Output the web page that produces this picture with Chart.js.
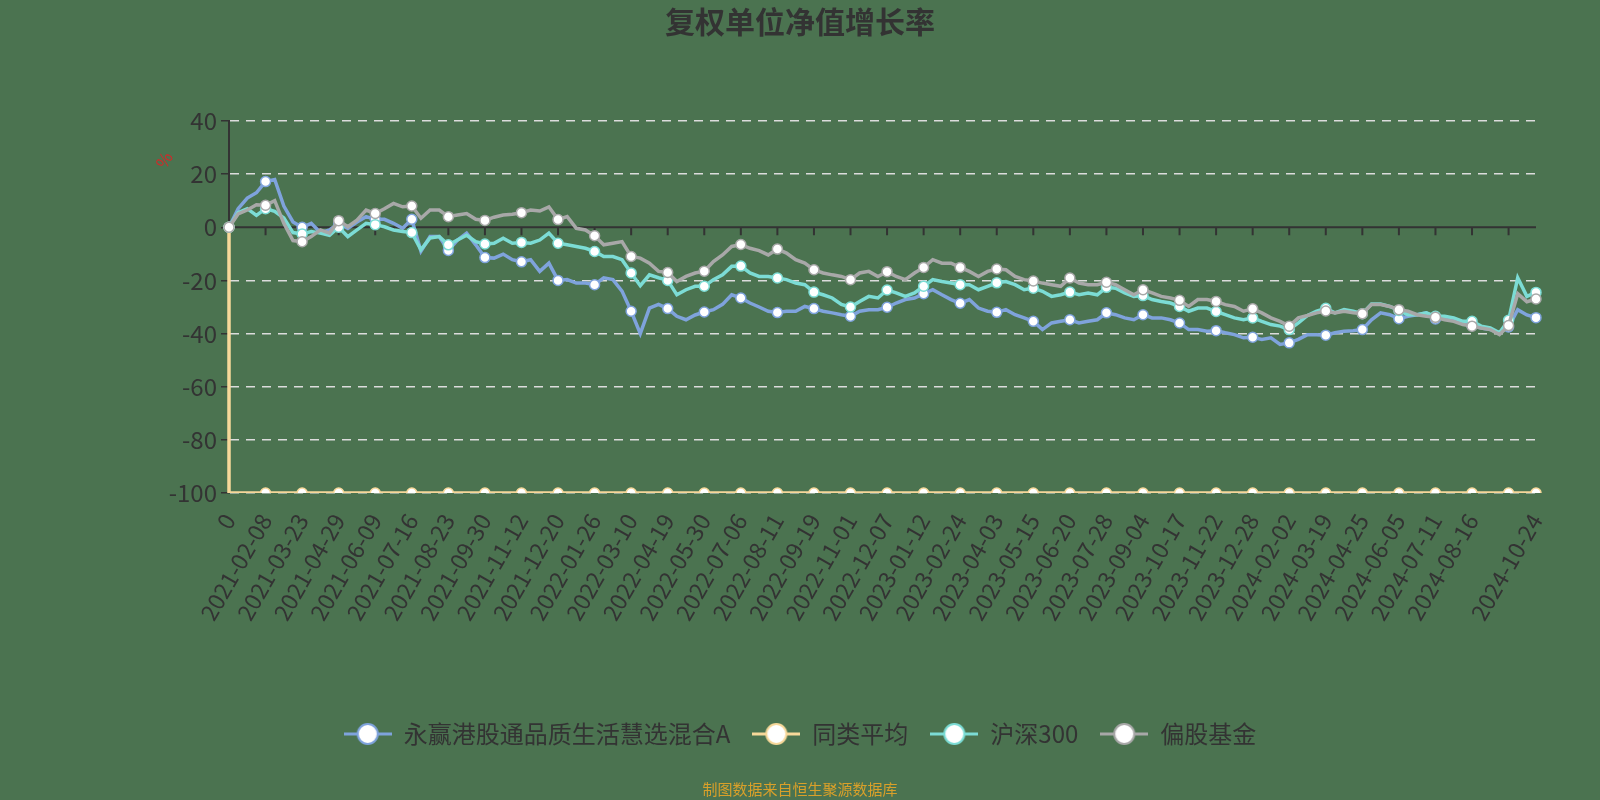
<!DOCTYPE html>
<html>
<head>
<meta charset="utf-8">
<script src="https://cdn.jsdelivr.net/npm/chart.js@4"></script>
<style>
  html, body { margin: 0; padding: 0; background: #4b7350; }
  #wrap { width: 1600px; height: 800px; }
</style>
</head>
<body>
<div id="wrap"><canvas id="navChart" width="1600" height="800"></canvas></div>
<script>
const FONT = '"Noto Sans CJK SC", "Noto Sans", sans-serif';

// dated ticks on the x axis, one every 4 samples; the tick before the last is unlabelled
const tickDates = [
  '0', '2021-02-08', '2021-03-23', '2021-04-29', '2021-06-09', '2021-07-16',
  '2021-08-23', '2021-09-30', '2021-11-12', '2021-12-20', '2022-01-26', '2022-03-10',
  '2022-04-19', '2022-05-30', '2022-07-06', '2022-08-11', '2022-09-19', '2022-11-01',
  '2022-12-07', '2023-01-12', '2023-02-24', '2023-04-03', '2023-05-15', '2023-06-20',
  '2023-07-28', '2023-09-04', '2023-10-17', '2023-11-22', '2023-12-28', '2024-02-02',
  '2024-03-19', '2024-04-25', '2024-06-05', '2024-07-11', '2024-08-16', ''
];
const lastDate = '2024-10-24';
const samplesPerTick = 4;

const seriesNames = ['永赢港股通品质生活慧选混合A', '同类平均', '沪深300', '偏股基金'];
const seriesColors = ['#7fa3dc', '#f7d89a', '#7cdcd5', '#a8a8a8'];

// growth rate (%)
const fundValues = [
  0, 7, 11, 13, 17.2, 18, 8, 2, 0,
  1.5, -2, -1, 1.5, -0.4, 2, 4, 3, 3, 1.5, -0.4, 3,
  -9, -3.5, -3.5, -8.7, -4.8, -2.2, -6.6, -11.4, -11.6,
  -10.1, -12.2, -13, -12.2, -16.6, -13.5, -20, -19.7, -21, -21, -21.6,
  -19, -19.7, -24, -31.6, -40, -30.4, -29, -30.6, -33.5, -34.8,
  -33, -31.9, -31, -29, -25.4, -26.6, -28.5, -30, -31.6, -32.1,
  -31.6, -31.6, -29.8, -30.6, -31.6, -32.2, -32.9, -33.5, -31.6, -31,
  -31, -30.1, -28.5, -27.2, -26.6, -25, -23.5, -25.4, -27.2, -28.6,
  -27.2, -30.4, -31.6, -32, -31, -32.9, -34.1, -35.4, -38.5, -36,
  -35.4, -34.8, -36, -35.4, -34.8, -32.2, -32.9, -34.1, -34.8, -32.9,
  -34.1, -34.1, -34.8, -36, -38.5, -38.5, -39.1, -38.9, -39.7, -40.4,
  -41.6, -41.4, -42.2, -41.6, -44.1, -43.5, -42.2, -40.4, -40.4, -40.6,
  -39.7, -39.1, -38.9, -38.5, -34.8, -32.2, -32.9, -34.4, -33.5, -32.9,
  -32.2, -34.5, -34.1, -34.8, -36, -37, -37.9, -38.5, -39.7, -37.5,
  -31, -33, -34
];

const peerAverage = [
  0, -100, -100, -100, -100, -100, -100, -100, -100, -100, -100, -100,
  -100, -100, -100, -100, -100, -100, -100, -100, -100, -100, -100, -100,
  -100, -100, -100, -100, -100, -100, -100, -100, -100, -100, -100, -100,
  -100, -100, -100, -100, -100, -100, -100, -100, -100, -100, -100, -100,
  -100, -100, -100, -100, -100, -100, -100, -100, -100, -100, -100, -100,
  -100, -100, -100, -100, -100, -100, -100, -100, -100, -100, -100, -100,
  -100, -100, -100, -100, -100, -100, -100, -100, -100, -100, -100, -100,
  -100, -100, -100, -100, -100, -100, -100, -100, -100, -100, -100, -100,
  -100, -100, -100, -100, -100, -100, -100, -100, -100, -100, -100, -100,
  -100, -100, -100, -100, -100, -100, -100, -100, -100, -100, -100, -100,
  -100, -100, -100, -100, -100, -100, -100, -100, -100, -100, -100, -100,
  -100, -100, -100, -100, -100, -100, -100, -100, -100, -100, -100, -100
];

const csi300 = [
  0, 5.5, 7, 4.5, 7, 6, 3.5, -2, -2.5,
  -1.6, -2.2, -3, 0, -3.5, -1, 1.5, 1, 0.2, -1, -1.6, -2,
  -8.5, -4, -3.5, -6.6, -4.8, -3, -5.4, -6.3, -6,
  -4.1, -6, -5.7, -6, -4.8, -2.2, -6, -6.6, -7.2, -7.9, -9.1,
  -11, -11, -12.2, -17.2, -22, -17.9, -19, -20, -25.4, -23.5,
  -22.2, -22.2, -19.7, -17.9, -14.7, -14.6, -17.2, -18.5, -18.5, -19.1,
  -19.7, -21, -21.6, -24.4, -25.4, -26.6, -29, -30, -27.9, -26,
  -26.6, -23.6, -24.7, -26, -24.7, -22.2, -19.7, -20.4, -21, -21.6,
  -21.6, -23.5, -22.2, -20.9, -20.4, -21.6, -23.5, -22.9, -24.1, -26,
  -25.4, -24.4, -25.4, -24.7, -25.4, -22.6, -22.9, -24.7, -26, -25.7,
  -27.2, -27.9, -28.5, -29.8, -31.6, -30.4, -30.4, -31.7, -32.9, -34.1,
  -34.8, -34.1, -35.4, -36.6, -37.2, -38.5, -36, -33.2, -31.6, -30.5,
  -32.2, -31, -31.6, -32.5, -28.9, -28.9, -29.8, -31.3, -32.9, -32.9,
  -32.2, -33.5, -33.5, -34.1, -35.4, -35.4, -37.2, -37.9, -39.7, -35,
  -19, -26, -24.5
];

const equityFunds = [
  0, 5, 6.5, 8.5, 8.3, 10, 1.5, -5, -5.4,
  -3.5, -1, -2.2, 2.5, 0.2, 2.7, 6.5, 5.2, 7, 9, 7.7, 8,
  3.4, 6.5, 6.5, 4, 4.6, 5.2, 3, 2.6, 3.8,
  4.6, 4.9, 5.5, 6.5, 6.1, 7.7, 2.9, 4, -0.4, -1, -3.2,
  -6.6, -6, -5.4, -11, -11.6, -13.5, -16.6, -17, -20.4, -18.5,
  -17.2, -16.5, -12.9, -10.4, -7.2, -6.5, -7.9, -8.8, -10.4, -8.2,
  -9.7, -12.2, -13.5, -16, -17.2, -17.9, -18.5, -19.7, -17.2, -16.6,
  -18.5, -16.7, -18.5, -19.7, -17.2, -15.1, -12.2, -13.5, -13.5, -15.1,
  -16.6, -18.5, -16.6, -15.7, -16, -18.5, -19.7, -20.2, -21, -21.6,
  -22.2, -19.1, -21, -21.6, -21.6, -20.7, -21.6, -23.5, -25.4, -23.5,
  -24.7, -26, -26.6, -27.5, -29.8, -27.2, -27.2, -27.9, -29.1, -29.8,
  -31.6, -30.7, -32.2, -34.1, -35.4, -37.2, -34.1, -33.2, -32.2, -31.5,
  -32.2, -31.6, -32.2, -32.5, -29.1, -29.1, -29.8, -31, -31.6, -32.9,
  -33.5, -33.9, -34.8, -35.4, -36.6, -37.2, -37.9, -38.5, -40.4, -37,
  -25, -28, -27
];

// one category per sample, named only where a date tick sits
const categories = fundValues.map((v, i) => {
  if (i % samplesPerTick === 0) return tickDates[i / samplesPerTick];
  return i === fundValues.length - 1 ? lastDate : '';
});
const lastIndex = categories.length - 1;

// dots only at the ticks and the last sample, like the original
const dotRadius = (ctx) => (ctx.index % samplesPerTick === 0 || ctx.index === lastIndex) ? 5 : 0;

// line + hollow circle legend icon
function legendIcon(color) {
  const c = document.createElement('canvas');
  c.width = 48;
  c.height = 26;
  const g = c.getContext('2d');
  g.strokeStyle = color;
  g.lineWidth = 3;
  g.beginPath();
  g.moveTo(0, 13);
  g.lineTo(48, 13);
  g.stroke();
  g.beginPath();
  g.arc(24, 13, 10, 0, Math.PI * 2);
  g.fillStyle = '#fff';
  g.fill();
  g.lineWidth = 2;
  g.stroke();
  return c;
}
const legendIcons = seriesColors.map(legendIcon);

function makeDataset(idx, data, order, extra) {
  return Object.assign({
    label: seriesNames[idx],
    data,
    order,
    borderColor: seriesColors[idx],
    backgroundColor: seriesColors[idx],
    borderWidth: 3.5,
    pointRadius: dotRadius,
    pointBackgroundColor: '#fff',
    pointBorderColor: seriesColors[idx],
    pointBorderWidth: 1.5,
    tension: 0,
    fill: false
  }, extra || {});
}

const decor = {
  id: 'decor',
  beforeDraw(chart) {
    const { ctx, width, height } = chart;
    ctx.save();
    ctx.fillStyle = '#4b7350';
    ctx.fillRect(0, 0, width, height);
    ctx.restore();
  },
  beforeDatasetsDraw(chart) {
    // x axis line sits on zero, with its tick marks
    const { ctx, chartArea } = chart;
    const xs = chart.scales.x;
    const y0 = chart.scales.y.getPixelForValue(0);
    ctx.save();
    ctx.strokeStyle = '#333';
    ctx.lineWidth = 2;
    ctx.beginPath();
    ctx.moveTo(chartArea.left, y0);
    ctx.lineTo(chartArea.right, y0);
    for (let i = samplesPerTick; i < categories.length; i += samplesPerTick) {
      const x = xs.getPixelForTick(i);
      ctx.moveTo(x, y0);
      ctx.lineTo(x, y0 + 8);
    }
    ctx.stroke();
    ctx.restore();
  },
  afterDraw(chart) {
    const { ctx } = chart;
    ctx.save();
    ctx.fillStyle = '#333';
    ctx.textAlign = 'center';
    ctx.textBaseline = 'middle';
    ctx.font = 'bold 30px ' + FONT;
    ctx.fillText('复权单位净值增长率', 800, 22);

    ctx.fillStyle = '#d9a02a';
    ctx.font = '15px ' + FONT;
    ctx.fillText('制图数据来自恒生聚源数据库', 800, 789);

    ctx.translate(164, 160);
    ctx.rotate(-Math.PI / 3);
    ctx.fillStyle = '#d02a2a';
    ctx.font = '17px ' + FONT;
    ctx.fillText('%', 0, 0);
    ctx.restore();
  }
};

new Chart(document.getElementById('navChart'), {
  type: 'line',
  data: {
    labels: categories,
    datasets: [
      makeDataset(0, fundValues, 3),
      makeDataset(1, peerAverage, 2, { stepped: 'after' }),
      makeDataset(2, csi300, 1),
      makeDataset(3, equityFunds, 0)
    ]
  },
  options: {
    responsive: false,
    animation: false,
    layout: {
      padding: { top: 121, right: 64, bottom: 44, left: 64 }
    },
    plugins: {
      title: { display: false },
      tooltip: { enabled: false },
      legend: {
        position: 'bottom',
        labels: {
          usePointStyle: true,
          pointStyleWidth: 48,
          padding: 22,
          color: '#333',
          font: { size: 24, family: FONT },
          sort: (a, b) => a.datasetIndex - b.datasetIndex,
          generateLabels: (chart) => chart.data.datasets.map((ds, i) => ({
            text: ds.label,
            pointStyle: legendIcons[i],
            fontColor: '#333',
            fillStyle: 'transparent',
            strokeStyle: 'transparent',
            lineWidth: 0,
            hidden: false,
            datasetIndex: i
          }))
        }
      }
    },
    scales: {
      x: {
        type: 'category',
        offset: false,
        grid: { display: false },
        border: { display: false },
        afterFit: (scale) => { scale.height = 207; },
        ticks: {
          autoSkip: false,
          minRotation: 60,
          maxRotation: 60,
          padding: 8,
          color: '#333',
          font: { size: 23, family: FONT },
          callback: (value, index) => categories[index]
        }
      },
      y: {
        min: -100,
        max: 40,
        afterFit: (scale) => { scale.width = 165; },
        grid: {
          color: (ctx) => (ctx.tick && ctx.tick.value === 0) ? 'rgba(0,0,0,0)' : '#dcdcdc',
          lineWidth: 1.5,
          tickColor: '#333',
          tickLength: 8,
          tickWidth: 1.5
        },
        border: {
          display: true,
          color: '#333',
          width: 2,
          dash: (ctx) => ctx.type === 'tick' ? [9, 7] : []
        },
        ticks: {
          stepSize: 20,
          padding: 4,
          color: '#333',
          font: { size: 24, family: FONT }
        }
      }
    }
  },
  plugins: [decor]
});
</script>
</body>
</html>
